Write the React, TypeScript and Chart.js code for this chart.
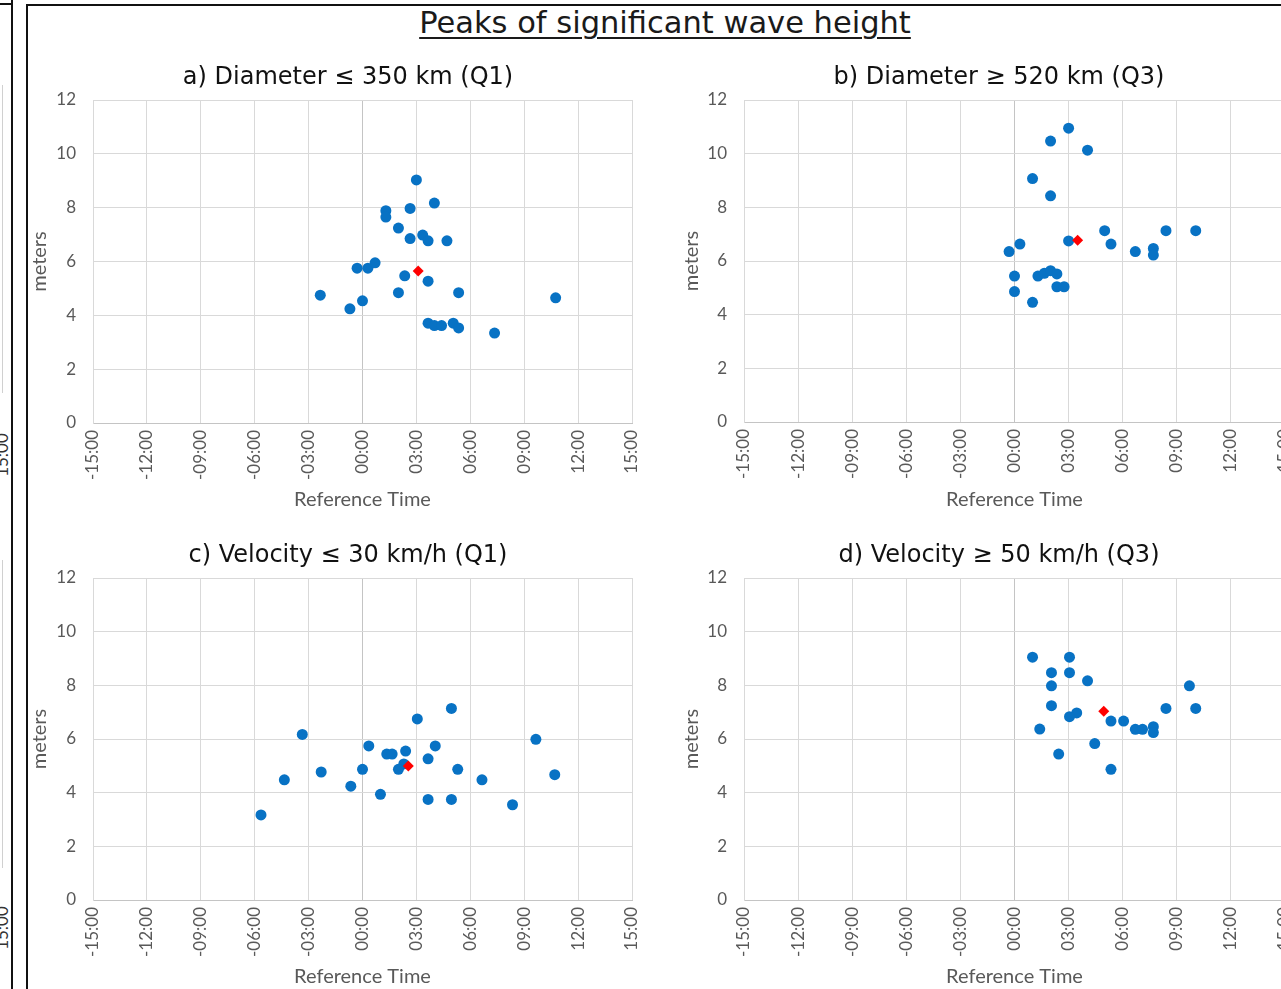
import React, { useEffect, useRef } from "react";
import { Chart, registerables } from "chart.js";

Chart.register(...registerables);

// ---------- data ----------
const xTickValues = [-15, -12, -9, -6, -3, 0, 3, 6, 9, 12, 15];
const xTickLabels = ["-15:00", "-12:00", "-09:00", "-06:00", "-03:00", "00:00", "03:00", "06:00", "09:00", "12:00", "15:00"];
const yTickValues = [0, 2, 4, 6, 8, 10, 12];

const mainTitle = "Peaks of significant wave height";
const panelTitles = [
  "a) Diameter ≤ 350 km (Q1)",
  "b) Diameter ≥ 520 km (Q3)",
  "c) Velocity ≤ 30 km/h (Q1)",
  "d) Velocity ≥ 50 km/h (Q3)",
];
const xAxisTitle = "Reference Time";
const yAxisTitle = "meters";

// a) Diameter <= 350 km
const aTimes = [3.0, 4.0, 1.3, 1.3, 2.65, 2.0, 2.65, 3.35, 3.65, 4.7, -0.3, 0.3, 0.7, 2.35, 3.65, -2.35, 0.0, -0.7, 2.0, 5.35, 10.75, 3.65, 4.0, 4.4, 5.05, 5.35, 7.35];
const aHeights = [9.03, 8.17, 7.89, 7.65, 7.97, 7.24, 6.85, 6.98, 6.77, 6.77, 5.75, 5.75, 5.95, 5.47, 5.27, 4.75, 4.54, 4.24, 4.84, 4.84, 4.65, 3.71, 3.62, 3.62, 3.71, 3.53, 3.34];
const aMeanTime = [3.1];
const aMeanHeight = [5.65];

// b) Diameter >= 520 km
const bTimes = [3.0, 2.0, 4.05, 1.0, 2.0, 5.0, 8.4, 10.05, 3.0, 5.35, 0.3, -0.3, 6.7, 7.7, 7.7, 0.0, 0.0, 1.0, 1.3, 1.65, 2.0, 2.35, 2.35, 2.75];
const bHeights = [10.95, 10.47, 10.13, 9.07, 8.43, 7.13, 7.13, 7.13, 6.75, 6.63, 6.63, 6.35, 6.35, 6.47, 6.22, 5.44, 4.86, 4.46, 5.44, 5.54, 5.64, 5.52, 5.04, 5.04];
const bMeanTime = [3.5];
const bMeanHeight = [6.77];

// c) Velocity <= 30 km/h
const cTimes = [4.95, 3.05, -3.35, 9.65, 0.35, 4.05, 1.35, 1.65, 2.4, 3.65, 2.3, 2.0, 0.0, 5.3, -2.3, -4.35, 6.65, 10.7, -0.65, 1.0, 3.65, 4.95, 8.35, -5.65];
const cHeights = [7.14, 6.75, 6.17, 5.99, 5.74, 5.74, 5.44, 5.44, 5.55, 5.26, 5.07, 4.87, 4.87, 4.87, 4.77, 4.48, 4.48, 4.67, 4.24, 3.94, 3.75, 3.75, 3.55, 3.17];
const cMeanTime = [2.55];
const cMeanHeight = [4.99];

// d) Velocity >= 50 km/h
const dTimes = [1.0, 3.05, 2.05, 3.05, 4.05, 2.05, 9.7, 2.05, 8.4, 10.05, 3.45, 3.05, 5.35, 6.05, 6.7, 7.1, 7.7, 7.7, 1.4, 4.45, 2.45, 5.35];
const dHeights = [9.05, 9.05, 8.47, 8.47, 8.17, 7.98, 7.98, 7.24, 7.14, 7.14, 6.97, 6.83, 6.67, 6.67, 6.36, 6.36, 6.46, 6.24, 6.37, 5.83, 5.44, 4.87];
const dMeanTime = [4.95];
const dMeanHeight = [7.03];

// ---------- styles ----------
const BLUE = "#0872C4";
const RED = "#FF0000";
const GRID = "#d9d9d9";
const AXIS = "#c4c4c4";
const LABEL = "#595959";

type PanelProps = {
  title: string;
  times: number[];
  heights: number[];
  meanTimes: number[];
  meanHeights: number[];
  left: number;
  top: number;
  width: number;
  height: number;
  yAxisWidth: number;
  rightGap: number;
  xAxisHeight: number;
};

function Panel(p: PanelProps) {
  const ref = useRef<HTMLCanvasElement>(null);
  useEffect(() => {
    if (!ref.current) return;
    const chart = new Chart(ref.current, {
      type: "scatter",
      data: {
        datasets: [
          {
            label: "mean",
            data: p.meanTimes.map((t, i) => ({ x: t, y: p.meanHeights[i] })),
            pointStyle: "rectRot",
            pointRadius: 5.5,
            backgroundColor: RED,
            borderColor: RED,
            borderWidth: 0,
          },
          {
            label: "peaks",
            data: p.times.map((t, i) => ({ x: t, y: p.heights[i] })),
            pointStyle: "circle",
            pointRadius: 5.5,
            backgroundColor: BLUE,
            borderColor: BLUE,
            borderWidth: 0,
          },
        ],
      },
      options: {
        responsive: false,
        animation: false,
        events: [],
        layout: { padding: 0 },
        plugins: {
          legend: { display: false },
          tooltip: { enabled: false },
          title: {
            display: true,
            text: p.title,
            color: "#111111",
            font: { family: "DejaVu Sans", size: 24, weight: "normal" },
            padding: { top: 15.6, bottom: 7.6 },
          },
        },
        scales: {
          x: {
            type: "linear",
            position: "bottom",
            min: -15,
            max: 15,
            afterBuildTicks: (s: any) => {
              s.ticks = xTickValues.map((v) => ({ value: v }));
            },
            afterFit: (s: any) => {
              s.height = p.xAxisHeight;
            },
            ticks: {
              autoSkip: false,
              minRotation: 90,
              maxRotation: 90,
              padding: 7,
              color: LABEL,
              font: { family: "Lato", size: 17 },
              callback: (_v: any, i: number) => xTickLabels[i],
            },
            grid: {
              drawTicks: false,
              lineWidth: 1,
              color: (ctx: any) => (ctx.tick && ctx.tick.value === 0 ? AXIS : GRID),
            },
            border: { display: true, color: AXIS },
            title: {
              display: true,
              text: xAxisTitle,
              color: LABEL,
              font: { family: "Lato", size: 20 },
              padding: { top: 0, bottom: 0.5 },
            },
          },
          y: {
            type: "linear",
            position: "left",
            min: 0,
            max: 12,
            afterBuildTicks: (s: any) => {
              s.ticks = yTickValues.map((v) => ({ value: v }));
            },
            afterFit: (s: any) => {
              s.width = p.yAxisWidth;
            },
            ticks: {
              padding: 17,
              color: LABEL,
              font: { family: "Lato", size: 17 },
            },
            grid: {
              drawTicks: false,
              lineWidth: 1,
              color: GRID,
            },
            border: { display: true, color: GRID },
            title: {
              display: true,
              text: yAxisTitle,
              color: LABEL,
              font: { family: "Lato", size: 20 },
              padding: { top: 0, bottom: 0 },
            },
          },
          gap: {
            type: "linear",
            position: "right",
            display: true,
            afterFit: (s: any) => {
              s.width = p.rightGap;
            },
            ticks: { display: false },
            grid: { display: false, drawOnChartArea: false },
            border: { display: false },
            title: { display: false },
          },
        },
      } as any,
    });
    return () => chart.destroy();
  }, []);
  return (
    <canvas
      ref={ref}
      width={p.width}
      height={p.height}
      style={{ position: "absolute", left: p.left, top: p.top, width: p.width, height: p.height, display: "block" }}
    />
  );
}

export default function App() {
  return (
    <div
      style={{
        position: "absolute",
        left: 0,
        top: 0,
        width: 1281,
        height: 989,
        overflow: "hidden",
        background: "#ffffff",
      }}
    >
      {/* neighbouring figure strip on the left */}
      <div style={{ position: "absolute", left: 2, top: 85, width: 1, height: 308, background: "#d0d0d0" }} />
      <div style={{ position: "absolute", left: 2, top: 560, width: 1, height: 308, background: "#d0d0d0" }} />
      <div style={{ position: "absolute", left: 0, top: 3, width: 12, height: 2, background: "#111" }} />
      <div style={{ position: "absolute", left: 11, top: 0, width: 2, height: 989, background: "#111" }} />
      {[455, 928].map((cy) => (
        <div
          key={cy}
          style={{
            position: "absolute",
            left: 2 - 25,
            top: cy - 10,
            width: 50,
            height: 20,
            lineHeight: "20px",
            textAlign: "center",
            transform: "rotate(-90deg)",
            fontFamily: "Lato",
            fontSize: 17,
            color: "#333333",
          }}
        >
          15:00
        </div>
      ))}

      {/* frame of this figure */}
      <div style={{ position: "absolute", left: 26, top: 4, width: 1300, height: 2, background: "#111" }} />
      <div style={{ position: "absolute", left: 26, top: 4, width: 2, height: 990, background: "#111" }} />

      {/* main title */}
      <div
        style={{
          position: "absolute",
          left: 365,
          top: 3,
          width: 600,
          height: 40,
          lineHeight: "40px",
          textAlign: "center",
          fontFamily: "DejaVu Sans",
          fontSize: 30.5,
          color: "#1a1a1a",
          textDecoration: "underline",
          textDecorationThickness: "1.5px",
          textUnderlineOffset: "4px",
          whiteSpace: "nowrap",
        }}
      >
        {mainTitle}
      </div>

      <Panel
        title={panelTitles[0]}
        times={aTimes}
        heights={aHeights}
        meanTimes={aMeanTime}
        meanHeights={aMeanHeight}
        left={28}
        top={48}
        width={640}
        height={464}
        yAxisWidth={65}
        rightGap={36}
        xAxisHeight={89}
      />
      <Panel
        title={panelTitles[1]}
        times={bTimes}
        heights={bHeights}
        meanTimes={bMeanTime}
        meanHeights={bMeanHeight}
        left={680}
        top={48}
        width={638}
        height={464}
        yAxisWidth={64}
        rightGap={33}
        xAxisHeight={90}
      />
      <Panel
        title={panelTitles[2]}
        times={cTimes}
        heights={cHeights}
        meanTimes={cMeanTime}
        meanHeights={cMeanHeight}
        left={28}
        top={526}
        width={640}
        height={463}
        yAxisWidth={65}
        rightGap={36}
        xAxisHeight={89}
      />
      <Panel
        title={panelTitles[3]}
        times={dTimes}
        heights={dHeights}
        meanTimes={dMeanTime}
        meanHeights={dMeanHeight}
        left={680}
        top={526}
        width={638}
        height={463}
        yAxisWidth={64}
        rightGap={33}
        xAxisHeight={89}
      />
    </div>
  );
}
